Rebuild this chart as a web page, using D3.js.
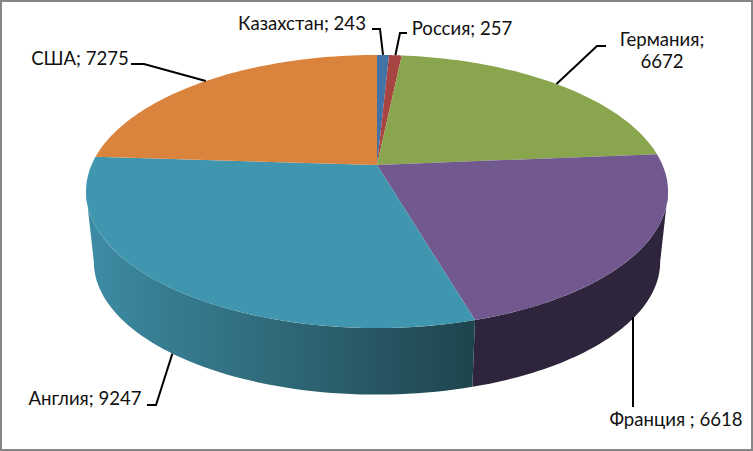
<!DOCTYPE html>
<html><head><meta charset="utf-8">
<script src="https://cdn.jsdelivr.net/npm/d3@7/dist/d3.min.js"></script>
<style>html,body{margin:0;padding:0;background:#fff}svg{display:block}</style>
</head><body><svg id="c" width="753" height="451"></svg>
<script>
const categories=["Казахстан","Россия","Германия","Франция","Англия","США"];
const values=[243,257,6672,6618,9247,7275];
const topColors=["#4372a6","#a84543","#89a54e","#71588f","#4096af","#da833c"];
const labelLines=[["Казахстан; 243"],["Россия; 257"],["Германия;","6672"],["Франция ; 6618"],["Англия; 9247"],["США; 7275"]];
const labelPos=[[302,30],[462,35],[662,46],[676,426],[85,405],[80,65]];
const elbows=[[[380,29],[372,29]],[[400,33],[407,33]],[[597,46],[606,46]],[[633,407]],[[156,405],[147,405]],[[144,64],[131,64]]];
const cx=377,cy=165,A=285.5,B=131.4,k=0.194,lowerY=236,s=0.973;
const svg=d3.select("#c");
const pie=d3.pie().sort(null).startAngle(0).endAngle(2*Math.PI)(values);
const proj=(t,lower)=>{const u=Math.sin(t),v=Math.cos(t),w=1+k*v,sc=lower?s:1;
 return [cx+sc*A*u/w,(lower?lowerY:cy)-sc*B*v/w];};
const line=d3.line();
const arcPts=(a,b,lower)=>d3.range(0,61).map(i=>proj(a+(b-a)*i/60,lower));
const defs=svg.append("defs");
const g1=defs.append("linearGradient").attr("id","gE").attr("gradientUnits","userSpaceOnUse").attr("x1",86).attr("x2",473).attr("y1",0).attr("y2",0);
[[0,"#3d8da6"],[.17,"#377f94"],[.55,"#2e6574"],[.8,"#25525e"],[1,"#1e454e"]].forEach(d=>g1.append("stop").attr("offset",d[0]).attr("stop-color",d[1]));
svg.append("rect").attr("x",1).attr("y",1).attr("width",751).attr("height",449).attr("fill","#fff").attr("stroke","#868686").attr("stroke-width",2);
const sideFill={3:"#2e243c",4:"url(#gE)"};
const tangent=Math.acos(-k);
[3,4].forEach(i=>{const p=pie[i];
 const a=Math.max(p.startAngle,tangent),b=Math.min(p.endAngle,2*Math.PI-tangent);
 const pts=arcPts(a,b,false).concat(arcPts(a,b,true).reverse());
 svg.append("path").attr("d",line(pts)+"Z").attr("fill",sideFill[i]);});
pie.forEach((p,i)=>{
 const pts=[[cx,cy]].concat(arcPts(p.startAngle,p.endAngle,false));
 svg.append("path").attr("d",line(pts)+"Z").attr("fill",topColors[i]);});
pie.forEach((p,i)=>{
 const mid=(p.startAngle+p.endAngle)/2;
 const start=proj(mid,i===3||i===4);
 if(i===3)start[0]=elbows[i][0][0];
 const pts=[start].concat(elbows[i]);
 svg.append("path").attr("d",line(pts)).attr("fill","none").attr("stroke","#000").attr("stroke-width",2);
 const t=svg.append("text").attr("font-family","Lato, 'Open Sans', sans-serif").attr("font-size",18.6).attr("fill","#111").attr("text-anchor","middle");
 labelLines[i].forEach((l,j)=>t.append("tspan").attr("x",labelPos[i][0]).attr("y",labelPos[i][1]+j*22).text(l));
});
</script></body></html>
